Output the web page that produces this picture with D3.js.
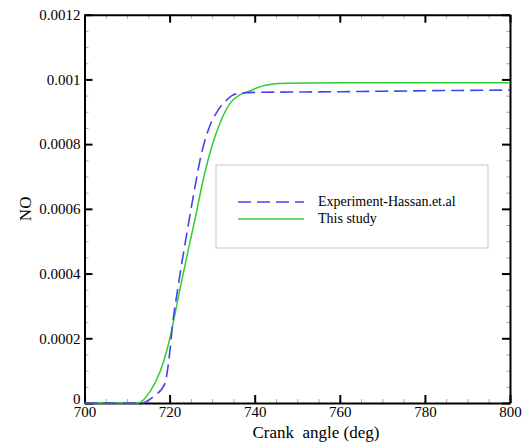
<!DOCTYPE html>
<html>
<head>
<meta charset="utf-8">
<script src="https://cdn.jsdelivr.net/npm/d3@7"></script>
<style>
  body { margin: 0; background: #fff; }
  svg { display: block; font-family: "Liberation Serif", "DejaVu Serif", serif; }
</style>
</head>
<body>
<div id="chart"></div>
<script>
// crank angle (deg) vs NO mass fraction
const expAngle = [700, 713.4, 716.2, 718.9, 719.6, 720.1, 720.6, 722, 724, 726, 727.3, 729.1, 731.4, 733.4, 734.9, 737, 740, 760, 780, 800]
const expNO = [0, 0, 0.00002, 0.00006, 0.00011, 0.000164, 0.00023, 0.00036, 0.00052, 0.00067, 0.00076, 0.000844, 0.000905, 0.000936, 0.000952, 0.000958, 0.00096, 0.000962, 0.000965, 0.000967]

const simAngle = [700, 712.6, 715.4, 717.7, 719.3, 720.5, 722.4, 724.5, 726, 727.9, 729.9, 731.8, 734.2, 736.5, 738.8, 741.2, 744, 747.5, 760, 780, 800]
const simNO = [0, 0, 0.000035, 0.000095, 0.00016, 0.000226, 0.00035, 0.00048, 0.00057, 0.00069, 0.000792, 0.000864, 0.000926, 0.000952, 0.000964, 0.000977, 0.000985, 0.000988, 0.00099, 0.00099, 0.00099]

const xTicks = [700, 720, 740, 760, 780, 800]
const yTicks = [0, 0.0002, 0.0004, 0.0006, 0.0008, 0.001, 0.0012]
const seriesNames = ["Experiment-Hassan.et.al", "This study"]

const width = 526
const height = 443
const margin = { top: 14.7, right: 16, bottom: 40, left: 84.5 }

const svg = d3.select("#chart").append("svg")
  .attr("width", width)
  .attr("height", height)

const x = d3.scaleLinear().domain([700, 800]).range([margin.left, width - margin.right])
const y = d3.scaleLinear().domain([0, 0.0012]).range([height - margin.bottom, margin.top])

const minorX = d3.range(700, 801, 5).filter(v => v % 20 !== 0)
const minorY = d3.range(0, 25).map(i => i * 0.00005).filter((v, i) => i % 4 !== 0)

const fmtY = d => d === 0 ? "0" : String(+d.toFixed(4))

function styleAxis(g) {
  g.selectAll(".domain").attr("stroke", "#000").attr("stroke-width", 2)
  g.selectAll(".tick line").attr("stroke", "#000").attr("stroke-width", 2)
  g.selectAll("text").attr("fill", "#000").style("font-size", "15px").style("font-family", "Liberation Serif, serif")
}

// minor ticks
const minorAxes = [
  [d3.axisBottom(x).tickValues(minorX), `translate(0,${y(0)})`],
  [d3.axisTop(x).tickValues(minorX), `translate(0,${y(0.0012)})`],
  [d3.axisLeft(y).tickValues(minorY), `translate(${x(700)},0)`],
  [d3.axisRight(y).tickValues(minorY), `translate(${x(800)},0)`]
]
minorAxes.forEach(([axis, tr]) => {
  const g = svg.append("g").attr("transform", tr)
    .call(axis.tickSizeInner(-4).tickSizeOuter(0).tickFormat(""))
  g.select(".domain").remove()
  g.selectAll(".tick line").attr("stroke", "#aaa").attr("stroke-width", 1)
})

// major axes
svg.append("g").attr("transform", `translate(0,${y(0)})`)
  .call(d3.axisBottom(x).tickValues(xTicks).tickSizeInner(-8).tickSizeOuter(0).tickPadding(3).tickFormat(d3.format("d")))
  .call(styleAxis)

svg.append("g").attr("transform", `translate(0,${y(0.0012)})`)
  .call(d3.axisTop(x).tickValues(xTicks).tickSizeInner(-8).tickSizeOuter(0).tickFormat(""))
  .call(styleAxis)

const yAxis = svg.append("g").attr("transform", `translate(${x(700)},0)`)
  .call(d3.axisLeft(y).tickValues(yTicks).tickSizeInner(-8).tickSizeOuter(0).tickPadding(4).tickFormat(fmtY))
  .call(styleAxis)
// lift the "0" label a little so it clears "700"
yAxis.selectAll(".tick").filter(d => d === 0).select("text").attr("dy", "0.05em")

svg.append("g").attr("transform", `translate(${x(800)},0)`)
  .call(d3.axisRight(y).tickValues(yTicks).tickSizeInner(-8).tickSizeOuter(0).tickFormat(""))
  .call(styleAxis)

// axis titles
svg.append("text")
  .attr("x", 316)
  .attr("y", 438)
  .attr("text-anchor", "middle")
  .style("white-space", "pre")
  .style("font-size", "17px")
  .text("Crank  angle (deg)")

svg.append("text")
  .attr("transform", `translate(31,${(y(0) + y(0.0012)) / 2}) rotate(-90)`)
  .attr("text-anchor", "middle")
  .style("font-size", "17px")
  .text("NO")

// curves
const line = d3.line()
  .x(d => x(d[0]))
  .y(d => y(d[1]))
  .curve(d3.curveMonotoneX)

const plot = svg.append("g")

plot.append("path")
  .datum(simAngle.map((a, i) => [a, simNO[i]]))
  .attr("fill", "none")
  .attr("stroke", "#33cc33")
  .attr("stroke-width", 1.5)
  .attr("d", line)

plot.append("path")
  .datum(expAngle.map((a, i) => [a, expNO[i]]))
  .attr("fill", "none")
  .attr("stroke", "#4444ee")
  .attr("stroke-width", 1.6)
  .attr("stroke-dasharray", "13,6")
  .attr("d", line)

// legend
const legend = svg.append("g").attr("transform", "translate(216,165)")

legend.append("rect")
  .attr("width", 272)
  .attr("height", 83)
  .attr("fill", "#fff")
  .attr("stroke", "#c8c8c8")
  .attr("stroke-width", 1)

const legendItems = [
  { name: seriesNames[0], color: "#4444ee", dash: "13,6", dy: 37 },
  { name: seriesNames[1], color: "#33cc33", dash: null, dy: 54 }
]

legendItems.forEach(item => {
  legend.append("line")
    .attr("x1", 22).attr("x2", 88)
    .attr("y1", item.dy).attr("y2", item.dy)
    .attr("stroke", item.color)
    .attr("stroke-width", 1.5)
    .attr("stroke-dasharray", item.dash)

  legend.append("text")
    .attr("x", 102)
    .attr("y", item.dy + 4)
    .style("font-size", "14px")
    .text(item.name)
})
</script>
</body>
</html>
